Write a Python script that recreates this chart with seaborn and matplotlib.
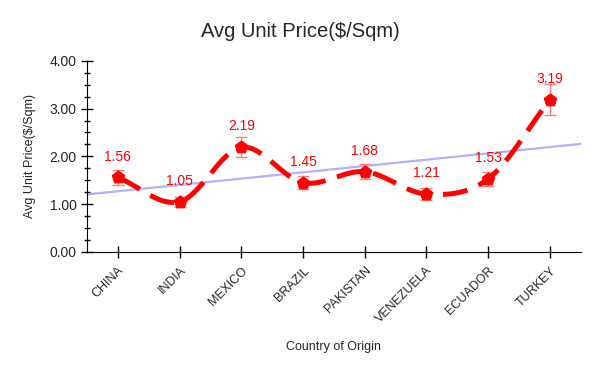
import matplotlib
matplotlib.use('Agg')
import matplotlib.pyplot as plt
import numpy as np
import seaborn as sns

countries = ['CHINA', 'INDIA', 'MEXICO', 'BRAZIL', 'PAKISTAN', 'VENEZUELA', 'ECUADOR', 'TURKEY']
avg_price = [1.56, 1.05, 2.19, 1.45, 1.68, 1.21, 1.53, 3.19]
price_err = [0.15, 0.10, 0.21, 0.14, 0.16, 0.12, 0.15, 0.32]


def smooth_curve(x, y, steps=30):
    # catmull-rom spline through the points, only for drawing the line
    x = np.asarray(x, float)
    y = np.asarray(y, float)
    px = np.concatenate([[2 * x[0] - x[1]], x, [2 * x[-1] - x[-2]]])
    py = np.concatenate([[2 * y[0] - y[1]], y, [2 * y[-1] - y[-2]]])
    xs, ys = [], []
    t = np.linspace(0, 1, steps)
    for i in range(1, len(px) - 2):
        for arr, out in ((px, xs), (py, ys)):
            p0, p1, p2, p3 = arr[i - 1], arr[i], arr[i + 1], arr[i + 2]
            out.append(0.5 * (2 * p1 + (-p0 + p2) * t
                              + (2 * p0 - 5 * p1 + 4 * p2 - p3) * t ** 2
                              + (-p0 + 3 * p1 - 3 * p2 + p3) * t ** 3))
    return np.concatenate(xs), np.concatenate(ys)


sns.set_style('ticks')
plt.rcParams['font.family'] = ['Liberation Sans', 'DejaVu Sans']

fig = plt.figure(figsize=(6, 3.71), dpi=100)
ax = fig.add_axes([0.145, 0.321, 0.823, 0.515])

xpos = np.arange(len(countries))
ax.set_xlim(-0.5, len(countries) - 0.5)
ax.set_ylim(0, 4)

# trend line
sns.regplot(x=xpos, y=avg_price, scatter=False, ci=None, truncate=False, ax=ax,
            line_kws=dict(color='#b0b0ff', lw=1.6, zorder=1))

# smooth dashed line
sx, sy = smooth_curve(xpos, avg_price)
ax.plot(sx, sy, color='red', lw=3.6, dashes=(5, 2.4), dash_capstyle='butt', zorder=3)

ax.errorbar(xpos, avg_price, yerr=price_err, fmt='none', ecolor='#ff8080',
            elinewidth=1, capsize=4.5, capthick=1, zorder=2)

sns.scatterplot(x=xpos, y=avg_price, marker='p', s=90, color='red',
                edgecolor='red', ax=ax, zorder=4)

for x, v in zip(xpos, avg_price):
    ax.annotate(f'{v:.2f}', xy=(x, v), xytext=(0, 15), textcoords='offset points',
                ha='center', va='center', color='red', fontsize=10,
                arrowprops=dict(arrowstyle='-', color='#e0e0e0', lw=0.8,
                                shrinkA=5, shrinkB=0))

ax.set_xticks(xpos)
ax.set_xticklabels(countries, rotation=45, ha='right', rotation_mode='anchor', fontsize=9)
ax.set_yticks([0, 1, 2, 3, 4])
ax.set_yticklabels([f'{v:.2f}' for v in [0, 1, 2, 3, 4]], fontsize=10)
ax.set_yticks(np.arange(0, 4.01, 0.25), minor=True)
ax.tick_params(axis='both', which='major', direction='inout', length=8, width=1, color='black')
ax.tick_params(axis='y', which='minor', direction='inout', length=5, width=1, color='black')
ax.tick_params(axis='x', which='major', pad=5)

sns.despine(ax=ax)
ax.spines['left'].set_color('black')
ax.spines['bottom'].set_color('black')

ax.set_xlabel('Country of Origin', fontsize=9, labelpad=11)
ax.set_ylabel('Avg Unit Price($/Sqm)', fontsize=9, labelpad=10)
fig.text(0.5, 0.915, 'Avg Unit Price($/Sqm)', ha='center', va='center', fontsize=14.5)

fig.savefig('out.png', dpi=100)
